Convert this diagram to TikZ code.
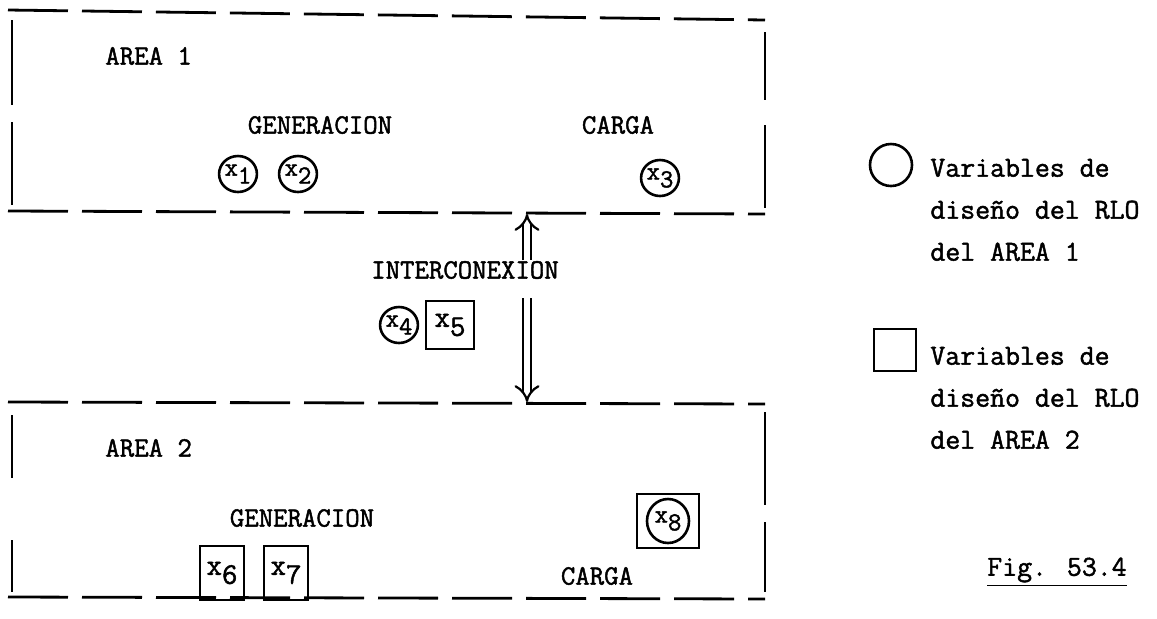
\documentclass[tikz,border=0pt]{standalone}
\usepackage{fontspec}
\usepackage{tikz}
\usetikzlibrary{arrows.meta,positioning,shapes.geometric}
\newfontfamily\twfont[FakeBold=1.6]{Latin Modern Mono}

\tikzset{
  brd/.style={line width=1.4pt},
  dsh/.style={brd,dash pattern=on 30pt off 7pt},
  lab/.style={font=\twfont\fontsize{14}{16}\selectfont,inner sep=0pt},
  leg/.style={font=\twfont\fontsize{14.5}{21}\selectfont,inner sep=0pt,align=left},
  var/.style={ellipse,draw,line width=1.3pt,minimum width=16pt,minimum height=18pt,inner sep=0pt,
    font=\twfont\fontsize{13}{13}\selectfont},
  varsq/.style={rectangle,draw,line width=1.3pt,minimum width=22pt,minimum height=27pt,inner sep=0pt,
    font=\twfont\fontsize{15}{15}\selectfont},
  dbl/.style={double,double distance=3.2pt,line width=1.1pt,-{Implies}},
}
\newcommand{\xs}[1]{x\raisebox{-.7ex}{#1}}

\begin{document}
\begin{tikzpicture}[x=0.5pt,y=-0.5pt]
  \useasboundingbox (0,0) rectangle (1157,618);

  % AREA 1
  \draw[dsh] (8,10) -- (765,20);
  \draw[dsh] (8,211) -- (765,214);
  \draw[brd] (12,20) -- (12,105) (12,122) -- (12,205);
  \draw[brd] (765,32) -- (765,100) (765,125) -- (765,208);
  \node[lab,anchor=west] (area1) at (105,56) {AREA 1};
  \node[lab] (gen1) at (320,125) {GENERACION};
  \node[lab] (car1) at (618,125) {CARGA};
  \node[var] (x1) at (238,174) {\xs{1}};
  \node[var] (x2) at (298,174) {\xs{2}};
  \node[var] (x3) at (660,178) {\xs{3}};

  % interconexion
  \node[lab] (inter) at (465,270) {INTERCONEXION};
  \node[var] (x4) at (399,325) {\xs{4}};
  \node[varsq,minimum width=24pt,minimum height=24pt] (x5) at (450,325) {\xs{5}};
  \coordinate (up0) at (527,260);
  \coordinate (up1) at (527,214);
  \coordinate (dn0) at (527,298);
  \coordinate (dn1) at (527,402);
  \draw[dbl] (up0) -- (up1);
  \draw[dbl] (dn0) -- (dn1);

  % AREA 2
  \draw[dsh] (8,402) -- (765,404);
  \draw[dsh] (8,597) -- (765,599);
  \draw[brd] (12,415) -- (12,478) (12,540) -- (12,592);
  \draw[brd] (765,412) -- (765,505) (765,522) -- (765,592);
  \node[lab,anchor=west] (area2) at (105,448) {AREA 2};
  \node[lab] (gen2) at (302,518) {GENERACION};
  \node[lab] (car2) at (597,576) {CARGA};
  \node[varsq] (x6) at (222,573) {\xs{6}};
  \node[varsq] (x7) at (286,573) {\xs{7}};
  \node[varsq,minimum width=31pt,minimum height=27pt] (x8box) at (668,521) {};
  \node[var,minimum width=21pt,minimum height=22pt] (x8) at (668,521) {\xs{8}};

  % leyenda
  \node[circle,draw,line width=1.3pt,minimum size=21pt,inner sep=0pt] (legc) at (891,165) {};
  \node[leg,anchor=west] (legct) at (930,210) {Variables de\\diseño del RLO\\del AREA 1};
  \node[rectangle,draw,line width=1.3pt,minimum size=21pt,inner sep=0pt] (legs) at (895,350) {};
  \node[leg,anchor=west] (legst) at (930,398) {Variables de\\diseño del RLO\\del AREA 2};
  \node[leg] (fig) at (1057,572) {\underline{Fig. 53.4}};
\end{tikzpicture}
\end{document}
